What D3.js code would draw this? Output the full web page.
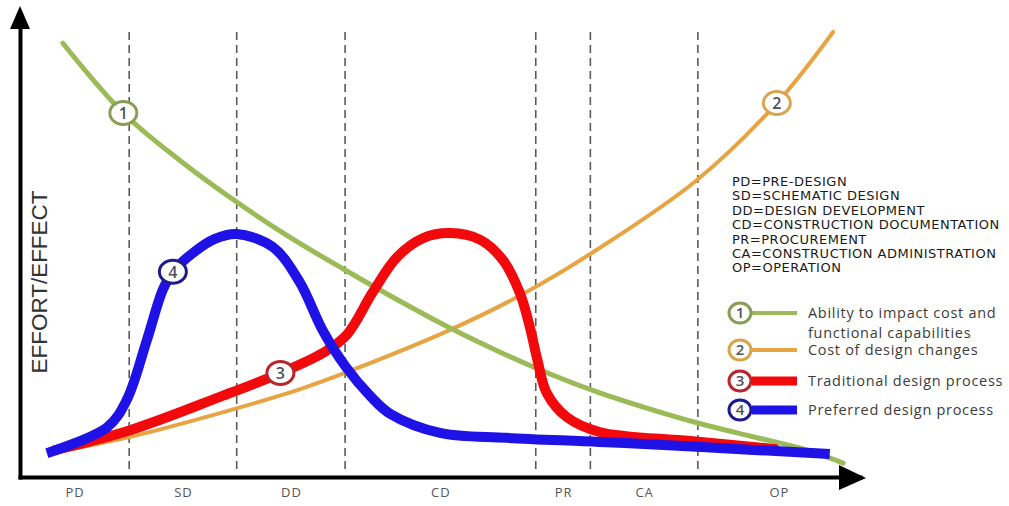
<!DOCTYPE html>
<html>
<head>
<meta charset="utf-8">
<script src="https://cdn.jsdelivr.net/npm/d3@7"></script>
<style>
  html, body { margin: 0; padding: 0; background: #fff; }
  svg { display: block; }
</style>
</head>
<body>
<svg id="chart" width="1009" height="506"></svg>
<script>
// Project phases along the timeline (0–100) and where each phase begins/ends
const phases = ["PD", "SD", "DD", "CD", "PR", "CA", "OP"];
const phaseEdges = [0, 13, 25.8, 38.7, 61.4, 67.9, 80.7, 100];

const abbreviations = [
  "PD=PRE-DESIGN",
  "SD=SCHEMATIC DESIGN",
  "DD=DESIGN DEVELOPMENT",
  "CD=CONSTRUCTION DOCUMENTATION",
  "PR=PROCUREMENT",
  "CA=CONSTRUCTION ADMINISTRATION",
  "OP=OPERATION"
];

const legendLabels = [
  ["Ability to impact cost and", "functional capabilities"],
  ["Cost of design changes"],
  ["Traditional design process"],
  ["Preferred design process"]
];

// Curves: [time, effort/effect]
const abilityToImpact = [
  [5.1, 96.4], [12.3, 80.9], [19.0, 70.4], [25.8, 61.1], [32.1, 53.3],
  [38.7, 46.0], [45.2, 39.1], [51.2, 33.1], [57.1, 27.8], [63.1, 22.9],
  [69.0, 18.7], [75.0, 15.1], [80.7, 12.0], [86.9, 9.1], [92.9, 6.4],
  [98.0, 3.1]
];
const costOfChanges = [
  [3.6, 5.3], [13.5, 9.1], [23.8, 14.2], [33.0, 19.3], [39.6, 23.8],
  [51.2, 32.7], [59.9, 40.7], [69.0, 50.9], [80.6, 66.0], [90.1, 83.1],
  [96.8, 98.9]
];
const traditionalProcess = [
  [4.2, 6.0], [13.1, 10.4], [23.8, 17.8], [31.0, 23.1], [36.1, 27.6],
  [38.9, 31.6], [42.0, 41.1], [44.9, 48.9], [48.0, 53.1], [51.2, 54.2],
  [54.8, 52.7], [57.5, 48.2], [59.5, 40.9], [60.7, 33.3], [61.6, 26.0],
  [62.7, 18.7], [65.1, 13.3], [69.0, 10.0], [79.8, 8.0], [89.9, 6.2]
];
const preferredProcess = [
  [3.2, 5.3], [10.4, 11.1], [12.7, 17.1], [15.1, 30.4], [17.0, 41.6],
  [18.2, 45.6], [20.6, 49.8], [23.2, 52.9], [25.8, 54.0], [30.1, 51.1],
  [33.3, 43.3], [36.0, 32.7], [38.7, 24.7], [41.7, 18.0], [44.1, 14.0],
  [50.0, 9.8], [58.0, 8.7], [69.0, 7.8], [80.6, 6.7], [96.4, 5.1]
];

// Numbered badge position (time) on each curve
const badgeTimes = [12.3, 90.1, 31.0, 18.2];

const series = [
  { id: 1, data: abilityToImpact,    color: "#9bbb59", ring: "#8a9c55", width: 5,  cap: "round", legendWidth: 4 },
  { id: 2, data: costOfChanges,      color: "#e6a443", ring: "#d7a64c", width: 4,  cap: "round", legendWidth: 4 },
  { id: 3, data: traditionalProcess, color: "#f2090c", ring: "#b8262b", width: 10, cap: "round", legendWidth: 9 },
  { id: 4, data: preferredProcess,   color: "#1f12e6", ring: "#1e1b8f", width: 10, cap: "butt",  legendWidth: 9 }
];
const drawOrder = [2, 1, 3, 4];

const svg = d3.select("#chart");
const x = d3.scaleLinear().domain([0, 100]).range([20, 860]);
const y = d3.scaleLinear().domain([0, 100]).range([477, 27]);

// Phase separators
const gPhase = svg.append("g");
gPhase.selectAll("line")
  .data(phaseEdges.slice(1, -1))
  .join("line")
  .attr("x1", d => x(d)).attr("x2", d => x(d))
  .attr("y1", 32).attr("y2", 471)
  .attr("stroke", "#5a5a5a")
  .attr("stroke-width", 1.6)
  .attr("stroke-dasharray", "8,5");

// Axes
const mids = phases.map((p, i) => (phaseEdges[i] + phaseEdges[i + 1]) / 2);
const xAxis = svg.append("g")
  .attr("transform", `translate(0,${y(0)})`)
  .call(d3.axisBottom(x).tickValues(mids).tickFormat((d, i) => phases[i]).tickSize(0).tickPadding(11));
xAxis.select(".domain").attr("stroke", "#000").attr("stroke-width", 4).attr("stroke-linecap", "square");
xAxis.selectAll("text")
  .attr("font-family", "'Open Sans', sans-serif")
  .attr("font-size", 13)
  .attr("letter-spacing", 1)
  .attr("fill", "#555");

const yAxis = svg.append("g")
  .attr("transform", `translate(${x(0)},0)`)
  .call(d3.axisLeft(y).tickValues([]).tickSizeOuter(0));
yAxis.select(".domain").attr("stroke", "#000").attr("stroke-width", 4).attr("stroke-linecap", "square");

// Arrow heads
svg.append("path")
  .attr("d", `M${x(0) - 10},${y(100) + 2} L${x(0)},${y(100) - 21} L${x(0) + 10},${y(100) + 2} Z`)
  .attr("fill", "#000");
svg.append("path")
  .attr("d", `M${x(100) - 21},${y(0) - 12} L${x(100) + 6},${y(0) + 1} L${x(100) - 21},${y(0) + 13} Z`)
  .attr("fill", "#000");

// Axis title
svg.append("text")
  .attr("transform", "translate(47,282) rotate(-90)")
  .attr("text-anchor", "middle")
  .attr("font-family", "'Liberation Sans Narrow', 'Liberation Sans', sans-serif")
  .attr("font-size", 22)
  .attr("fill", "#333")
  .attr("textLength", 183)
  .attr("lengthAdjust", "spacingAndGlyphs")
  .text("EFFORT/EFFECT");

// Curves
const line = d3.line()
  .x(d => x(d[0]))
  .y(d => y(d[1]))
  .curve(d3.curveCatmullRom.alpha(0.5));

const paths = {};
drawOrder.forEach(id => {
  const s = series.find(d => d.id === id);
  paths[id] = svg.append("path")
    .datum(s.data)
    .attr("d", line)
    .attr("fill", "none")
    .attr("stroke", s.color)
    .attr("stroke-width", s.width)
    .attr("stroke-linecap", s.cap)
    .attr("stroke-linejoin", "round");
});

// Locate the point of a path at a given screen x
function pointAtX(node, px) {
  let lo = 0, hi = node.getTotalLength();
  for (let i = 0; i < 40; i++) {
    const mid = (lo + hi) / 2;
    if (node.getPointAtLength(mid).x < px) lo = mid; else hi = mid;
  }
  return node.getPointAtLength((lo + hi) / 2);
}

function badge(g, cx, cy, rx, ry, ring, label, fs) {
  g.append("ellipse")
    .attr("cx", cx).attr("cy", cy)
    .attr("rx", rx).attr("ry", ry)
    .attr("fill", "#fff")
    .attr("stroke", ring)
    .attr("stroke-width", 3);
  g.append("text")
    .attr("x", cx).attr("y", cy)
    .attr("dy", "0.36em")
    .attr("text-anchor", "middle")
    .attr("font-family", "'Open Sans', sans-serif")
    .attr("font-weight", 600)
    .attr("font-size", fs)
    .attr("fill", "#4d5262")
    .text(label);
}

const gBadges = svg.append("g");
series.forEach((s, i) => {
  const p = pointAtX(paths[s.id].node(), x(badgeTimes[i]));
  badge(gBadges, p.x, p.y, 13.5, 11.5, s.ring, s.id, 16);
});

// Abbreviation list
svg.append("g")
  .selectAll("text")
  .data(abbreviations)
  .join("text")
  .attr("x", 732)
  .attr("y", (d, i) => 186 + i * 14.4)
  .attr("font-family", "'DejaVu Sans', sans-serif")
  .attr("font-size", 13)
  .attr("letter-spacing", 0.5)
  .attr("fill", "#1a1a1a")
  .text(d => d);

// Legend
const legendRows = [313, 350, 381, 410];
const gLegend = svg.append("g");
series.forEach((s, i) => {
  const cy = legendRows[i];
  gLegend.append("line")
    .attr("x1", 752).attr("x2", 797)
    .attr("y1", cy).attr("y2", cy)
    .attr("stroke", s.color)
    .attr("stroke-width", s.legendWidth);
  badge(gLegend, 740, cy, 11, 10, s.ring, s.id, 15);
  legendLabels[i].forEach((t, j) => {
    gLegend.append("text")
      .attr("x", 808)
      .attr("y", cy + 5 + j * 20)
      .attr("font-family", "'Open Sans', sans-serif")
      .attr("font-size", 14.5)
      .attr("letter-spacing", 0.7)
      .attr("fill", "#3c3c3c")
      .text(t);
  });
});
</script>
</body>
</html>
